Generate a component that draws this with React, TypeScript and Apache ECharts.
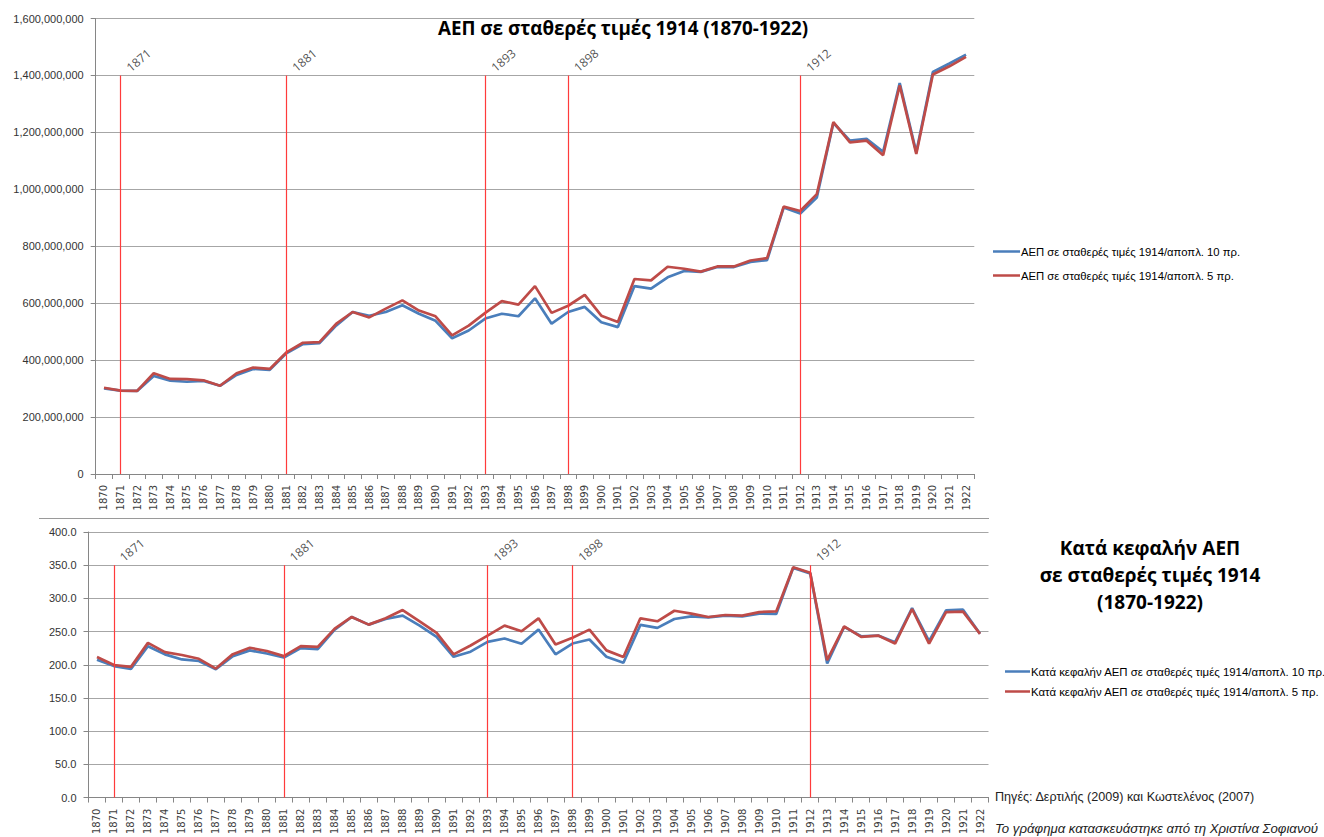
import { useEffect, useRef } from 'react';
import * as echarts from 'echarts';

const years = ['1870','1871','1872','1873','1874','1875','1876','1877','1878','1879','1880','1881','1882','1883','1884','1885','1886','1887','1888','1889','1890','1891','1892','1893','1894','1895','1896','1897','1898','1899','1900','1901','1902','1903','1904','1905','1906','1907','1908','1909','1910','1911','1912','1913','1914','1915','1916','1917','1918','1919','1920','1921','1922'];

// ΑΕΠ (millions of drachmas, 1914 prices)
const gdp10 = [301,293,292,344,328,324,327,310,348,369,366,424,456,460,521,569,556,569,593,563,538,477,504,546,563,554,617,528,569,587,533,516,660,651,691,713,710,727,727,745,751,936,915,971,1233,1171,1177,1132,1373,1130,1412,1442,1473];
const gdp5 = [303,293,292,354,334,333,329,310,354,374,369,427,461,463,527,569,550,581,610,574,554,487,521,566,607,595,660,566,591,629,556,534,685,680,728,721,711,729,729,750,758,939,924,983,1236,1165,1171,1120,1365,1124,1403,1432,1465];

// Κατά κεφαλήν ΑΕΠ
const pc10 = [207.7,198,193.8,228,215.7,208,205.7,193.3,213,221.7,217,211,225,223.6,253,272,260.5,269,274,259,242,212,219.7,234.6,239.6,231.6,253,215.7,232,238,212,203,260,255.5,269,273,271.5,274,273,277,276.5,346,337.7,202,257,243,244,234,285.4,235.6,282,283,246.6];
const pc5 = [211.7,199.7,196.8,233,219,214.7,209,194.3,216,225.6,220.7,213,228,227,254.5,272,260.5,270,282.4,265.5,248,215.7,229,244,259,250.5,270,230.6,240.6,253,221.7,211.7,270,265.5,281.4,277,272,275,274,279.4,280.4,347,338.7,207,258,242,244,232,284,232,279.4,280,246.6];

const eventYears = ['1871','1881','1893','1898','1912'];
const eventTopGdp = 1400;
const eventTopPc = 350;

const nameG10 = 'ΑΕΠ σε σταθερές τιμές 1914/αποπλ. 10 πρ.';
const nameG5 = 'ΑΕΠ σε σταθερές τιμές 1914/αποπλ. 5 πρ.';
const nameP10 = 'Κατά κεφαλήν ΑΕΠ σε σταθερές τιμές 1914/αποπλ. 10 πρ.';
const nameP5 = 'Κατά κεφαλήν ΑΕΠ σε σταθερές τιμές 1914/αποπλ. 5 πρ.';

const BLUE = '#4a7ebb';
const RED = '#be4b48';
const AXIS = '#868686';
const GRID = '#a6a6a6';
const VLINE = '#ff3b3b';

function xAxisFor(idx: number) {
  return {
    type: 'category',
    gridIndex: idx,
    data: years,
    boundaryGap: true,
    axisLine: { show: true, lineStyle: { color: AXIS } },
    axisTick: { show: true, alignWithLabel: false, interval: 0, length: 5, lineStyle: { color: AXIS } },
    axisLabel: { rotate: 90, interval: 0, fontSize: 10, fontFamily: 'DejaVu Sans', color: '#404040', margin: 11 },
    splitLine: { show: false },
  };
}

function eventSeries(idx: number, top: number) {
  return {
    type: 'scatter',
    xAxisIndex: idx,
    yAxisIndex: idx,
    data: eventYears.map((y) => [y, top]),
    symbolSize: 1,
    itemStyle: { color: 'rgba(0,0,0,0)' },
    silent: true,
    z: 5,
    label: {
      show: true,
      formatter: (p: any) => p.value[0],
      rotate: 40,
      position: [8, -6],
      align: 'left',
      verticalAlign: 'middle',
      fontSize: 12,
      fontFamily: 'Open Sans',
      color: '#262626',
    },
    markLine: {
      silent: true,
      symbol: ['none', 'none'],
      label: { show: false },
      lineStyle: { color: VLINE, width: 1.2, type: 'solid' },
      data: eventYears.map((y) => [{ coord: [y, top] }, { coord: [y, 0] }]),
    },
  };
}

export default function App() {
  const ref = useRef<HTMLDivElement>(null);
  useEffect(() => {
    if (!ref.current) return;
    const chart = echarts.init(ref.current, undefined, { renderer: 'svg' });
    const option: any = {
      animation: false,
      backgroundColor: '#ffffff',
      grid: [
        { left: 95.7, right: 349.7, top: 18.5, height: 455.5 },
        { left: 88.5, right: 335.5, top: 532, height: 267 },
      ],
      legend: [
        {
          data: [nameG10, nameG5],
          orient: 'vertical',
          left: 993,
          top: 246,
          icon: 'rect',
          itemWidth: 27,
          itemHeight: 2.5,
          itemGap: 13,
          padding: 0,
          textStyle: { fontSize: 11.3, fontFamily: 'Liberation Sans', color: '#000', padding: [0, 0, 0, -4] },
        },
        {
          data: [nameP10, nameP5],
          orient: 'vertical',
          left: 1005,
          top: 666,
          icon: 'rect',
          itemWidth: 25,
          itemHeight: 2.5,
          itemGap: 9,
          padding: 0,
          textStyle: { fontSize: 11.4, fontFamily: 'Liberation Sans', color: '#000', padding: [0, 0, 0, -4] },
        },
      ],
      xAxis: [xAxisFor(0), xAxisFor(1)],
      yAxis: [
        {
          type: 'value',
          gridIndex: 0,
          min: 0,
          max: 1600,
          interval: 200,
          axisLine: { show: true, lineStyle: { color: AXIS } },
          axisTick: { show: true, length: 5, lineStyle: { color: AXIS } },
          splitLine: { show: true, lineStyle: { color: GRID, width: 1 } },
          axisLabel: {
            formatter: (v: number) => (v * 1e6).toLocaleString('en-US'),
            fontSize: 11,
            fontFamily: 'Liberation Sans',
            color: '#333',
            margin: 12,
          },
        },
        {
          type: 'value',
          gridIndex: 1,
          min: 0,
          max: 400,
          interval: 50,
          axisLine: { show: true, lineStyle: { color: AXIS } },
          axisTick: { show: true, length: 5, lineStyle: { color: AXIS } },
          splitLine: { show: true, lineStyle: { color: GRID, width: 1 } },
          axisLabel: {
            formatter: (v: number) => v.toFixed(1),
            fontSize: 11,
            fontFamily: 'Liberation Sans',
            color: '#333',
            margin: 12,
          },
        },
      ],
      series: [
        { type: 'line', name: nameG10, xAxisIndex: 0, yAxisIndex: 0, data: gdp10, symbol: 'none', lineStyle: { color: BLUE, width: 2.7 }, itemStyle: { color: BLUE } },
        { type: 'line', name: nameG5, xAxisIndex: 0, yAxisIndex: 0, data: gdp5, symbol: 'none', lineStyle: { color: RED, width: 2.7 }, itemStyle: { color: RED } },
        eventSeries(0, eventTopGdp),
        { type: 'line', name: nameP10, xAxisIndex: 1, yAxisIndex: 1, data: pc10, symbol: 'none', lineStyle: { color: BLUE, width: 2.7 }, itemStyle: { color: BLUE } },
        { type: 'line', name: nameP5, xAxisIndex: 1, yAxisIndex: 1, data: pc5, symbol: 'none', lineStyle: { color: RED, width: 2.7 }, itemStyle: { color: RED } },
        eventSeries(1, eventTopPc),
      ],
      graphic: [
        {
          type: 'text',
          x: 623,
          y: 28,
          style: { text: 'ΑΕΠ σε σταθερές τιμές 1914 (1870-1922)', fontSize: 18.8, fontWeight: 'bold', fontFamily: 'Open Sans', fill: '#000', align: 'center', verticalAlign: 'middle' },
        },
        {
          type: 'text',
          x: 1150,
          y: 575,
          style: { text: 'Κατά κεφαλήν ΑΕΠ\nσε σταθερές τιμές 1914\n(1870-1922)', fontSize: 19, fontWeight: 'bold', fontFamily: 'Open Sans', lineHeight: 27, fill: '#000', align: 'center', verticalAlign: 'middle' },
        },
        {
          type: 'text',
          x: 995,
          y: 797,
          style: { text: 'Πηγές: Δερτιλής (2009) και Κωστελένος (2007)', fontSize: 12.6, fontFamily: 'Liberation Sans', fill: '#222', align: 'left', verticalAlign: 'middle' },
        },
        {
          type: 'text',
          x: 995,
          y: 828,
          style: { text: 'Το γράφημα κατασκευάστηκε από τη Χριστίνα Σοφιανού', fontSize: 13.2, fontStyle: 'italic', fontFamily: 'Liberation Sans', fill: '#222', align: 'left', verticalAlign: 'middle' },
        },
        {
          type: 'line',
          shape: { x1: 39, y1: 518.5, x2: 989, y2: 518.5 },
          style: { stroke: '#9a9a9a', lineWidth: 1 },
        },
      ],
    };
    chart.setOption(option);
    return () => chart.dispose();
  }, []);
  return <div ref={ref} style={{ position: 'absolute', left: 0, top: 0, width: 1324, height: 837 }} />;
}
